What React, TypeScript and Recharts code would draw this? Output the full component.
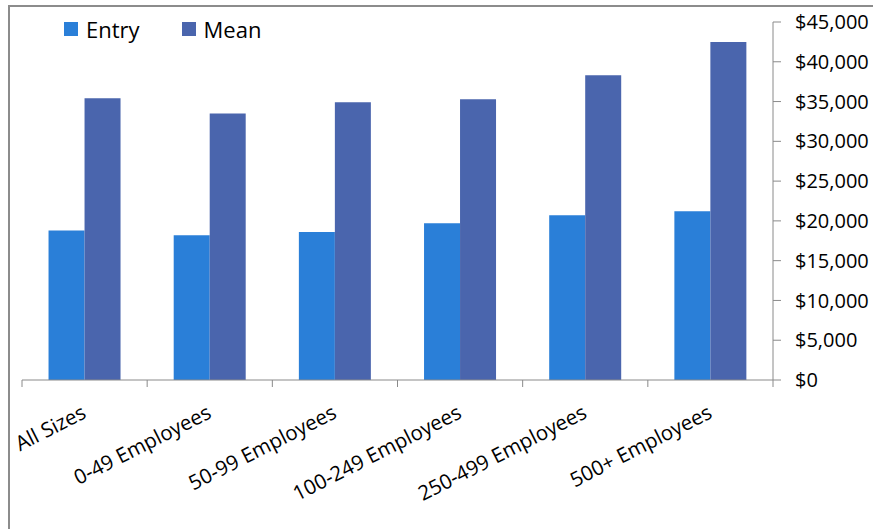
import { Bar, BarChart, XAxis, YAxis } from "recharts";

const categories = ["All Sizes", "0-49 Employees", "50-99 Employees", "100-249 Employees", "250-499 Employees", "500+ Employees"];
const entry = [18800, 18200, 18600, 19700, 20700, 21200];
const mean = [35400, 33500, 34900, 35300, 38300, 42500];
const yTicks = [0, 5000, 10000, 15000, 20000, 25000, 30000, 35000, 40000, 45000];

const data = categories.map((name, i) => ({ name, entry: entry[i], mean: mean[i] }));

const W = 870;
const H = 521;
const M = { top: 15, right: 0, left: 12, bottom: 0 };
const Y_W = 107;
const PLOT_W = W - M.left - M.right - Y_W;
const HALF = PLOT_W / categories.length / 2;
const FONT = "'Open Sans', sans-serif";
const AXIS = "#8a8a8a";

const money = (v: number) => "$" + v.toLocaleString("en-US");

function CatTick(props: any) {
    const { x, y, payload, index } = props;
    const ty = y + 37;
    return (
        <g>
            <line x1={x - HALF} x2={x - HALF} y1={y} y2={y + 7} stroke={AXIS} />
            {index === categories.length - 1 && <line x1={x + HALF} x2={x + HALF} y1={y} y2={y + 7} stroke={AXIS} />}
            <text x={x + 3} y={ty} textAnchor="end" transform={`rotate(-27, ${x + 3}, ${ty})`}
                fontFamily={FONT} fontSize={20.5} fill="#000">{payload.value}</text>
        </g>
    );
}

function Key() {
    const items = [["Entry", "#2a7fd8"], ["Mean", "#4a65ad"]];
    return (
        <div style={{ position: "absolute", left: 54, top: 8, display: "flex", gap: 42, fontFamily: FONT, fontSize: 22, lineHeight: "28px" }}>
            {items.map(([label, color]) => (
                <div key={label} style={{ display: "flex", alignItems: "center" }}>
                    <span style={{ width: 14, height: 14, background: color, marginRight: 8 }} />
                    <span>{label}</span>
                </div>
            ))}
        </div>
    );
}

export default function App() {
    return (
        <div style={{ position: "absolute", left: 8, top: 5, width: 880, height: 522, borderLeft: "2px solid #8c8c8c", borderTop: "2px solid #8c8c8c", borderBottom: "1px solid #eeeeee" }}>
            <Key />
            <BarChart width={W} height={H} data={data} margin={M} barCategoryGap="21.2%" barGap={0}>
                <XAxis dataKey="name" height={H - 373} tickSize={0} tickMargin={0} tickLine={false}
                    axisLine={{ stroke: AXIS }} tick={<CatTick />} interval={0} />
                <YAxis orientation="right" width={Y_W} domain={[0, 45000]} ticks={yTicks} tickFormatter={money}
                    axisLine={{ stroke: AXIS }} tickLine={{ stroke: AXIS }} tickSize={8} tickMargin={14}
                    tick={{ fontFamily: FONT, fontSize: 20, fill: "#000", textAnchor: "start" }} />
                <Bar dataKey="entry" fill="#2a7fd8" isAnimationActive={false} />
                <Bar dataKey="mean" fill="#4a65ad" isAnimationActive={false} />
            </BarChart>
        </div>
    );
}
